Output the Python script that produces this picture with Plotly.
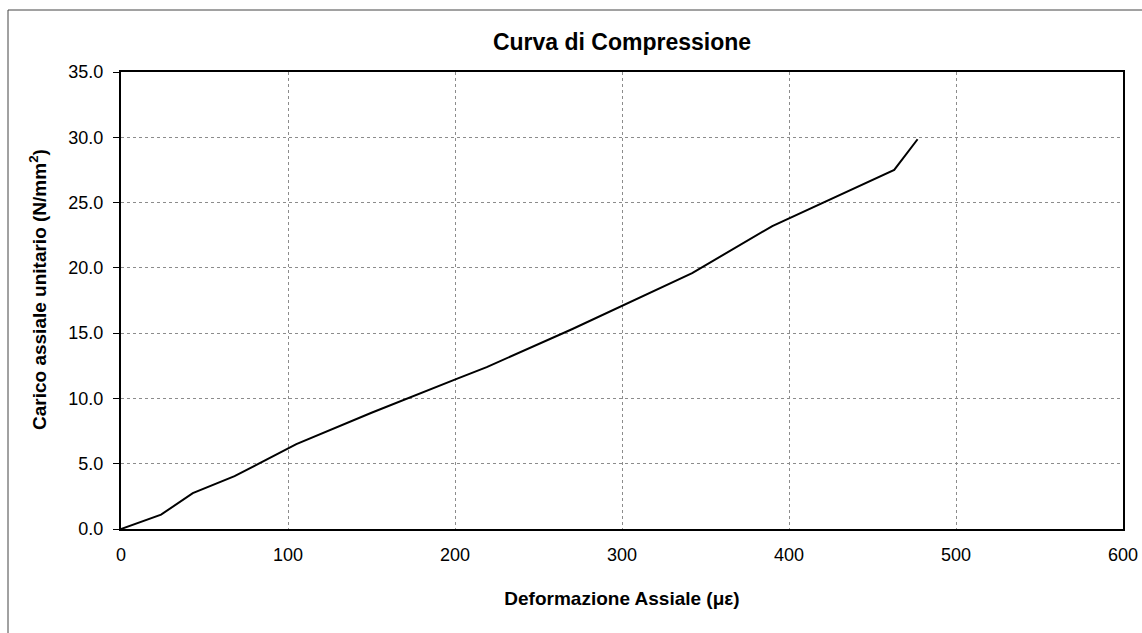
import plotly.graph_objects as go

strain = [0, 24, 43, 68, 105, 150, 201, 219, 270, 300, 342, 390, 463, 477]
stress = [0, 1.1, 2.75, 4.05, 6.5, 8.9, 11.5, 12.4, 15.3, 17.1, 19.6, 23.2, 27.5, 29.85]
x_ticks = [0, 100, 200, 300, 400, 500, 600]
y_ticks = [0, 5, 10, 15, 20, 25, 30, 35]

FONT = "Liberation Sans, Arial, sans-serif"

fig = go.Figure()
fig.add_trace(go.Scatter(x=strain, y=stress, mode="lines",
                         line=dict(color="black", width=2), showlegend=False))

L, R, T, B = 121, 19, 72, 104
W, H = 1142, 633
pw = W - L - R
ph = H - T - B

fig.update_layout(
    width=W, height=H, autosize=False,
    margin=dict(l=L, r=R, t=T, b=B, autoexpand=False),
    paper_bgcolor="white", plot_bgcolor="white",
    font=dict(family=FONT, color="black", size=18),
    title=dict(text="<b>Curva di Compressione</b>", x=(L + pw / 2) / W, xanchor="center",
               y=1 - 42 / H, yanchor="middle", font=dict(size=23, family=FONT)),
    xaxis=dict(range=[0, 600], tickvals=x_ticks, ticktext=[str(v) for v in x_ticks],
               showline=True, linecolor="black", linewidth=2, mirror=True,
               showgrid=True, gridcolor="#8c8c8c", griddash="dot", gridwidth=1,
               zeroline=False, ticks="", tickfont=dict(size=18), ticklabelstandoff=8,
               automargin=False,
               title=dict(text="<b>Deformazione Assiale (με)</b>", font=dict(size=19), standoff=28)),
    yaxis=dict(range=[0, 35], tickvals=y_ticks, ticktext=[f"{v:.1f}" for v in y_ticks],
               showline=True, linecolor="black", linewidth=2, mirror=True,
               showgrid=True, gridcolor="#8c8c8c", griddash="dot", gridwidth=1,
               zeroline=False, ticks="outside", ticklen=6, tickcolor="black", tickwidth=1,
               tickfont=dict(size=18), ticklabelstandoff=6, automargin=False),
)

# y-axis title placed as rotated annotation
fig.add_annotation(text="<b>Carico assiale unitario (N/mm<sup>2</sup>)</b>",
                   xref="paper", yref="paper",
                   x=(38 - L) / pw, y=(529 - 290) / ph,
                   xanchor="center", yanchor="middle", textangle=-90,
                   showarrow=False, font=dict(size=19, family=FONT, color="black"))

# outer chart frame (left and top edges visible)
fx = (8 - L) / pw
fy = 1 + (T - 10) / ph
fig.add_shape(type="line", xref="paper", yref="paper", x0=fx, x1=fx, y0=fy, y1=-0.3,
              line=dict(color="#444", width=1))
fig.add_shape(type="line", xref="paper", yref="paper", x0=fx, x1=1.1, y0=fy, y1=fy,
              line=dict(color="#444", width=1))

fig.write_html("out.html", config={"displayModeBar": False},
               post_script="document.body.style.margin='0';document.body.style.overflow='hidden';")
